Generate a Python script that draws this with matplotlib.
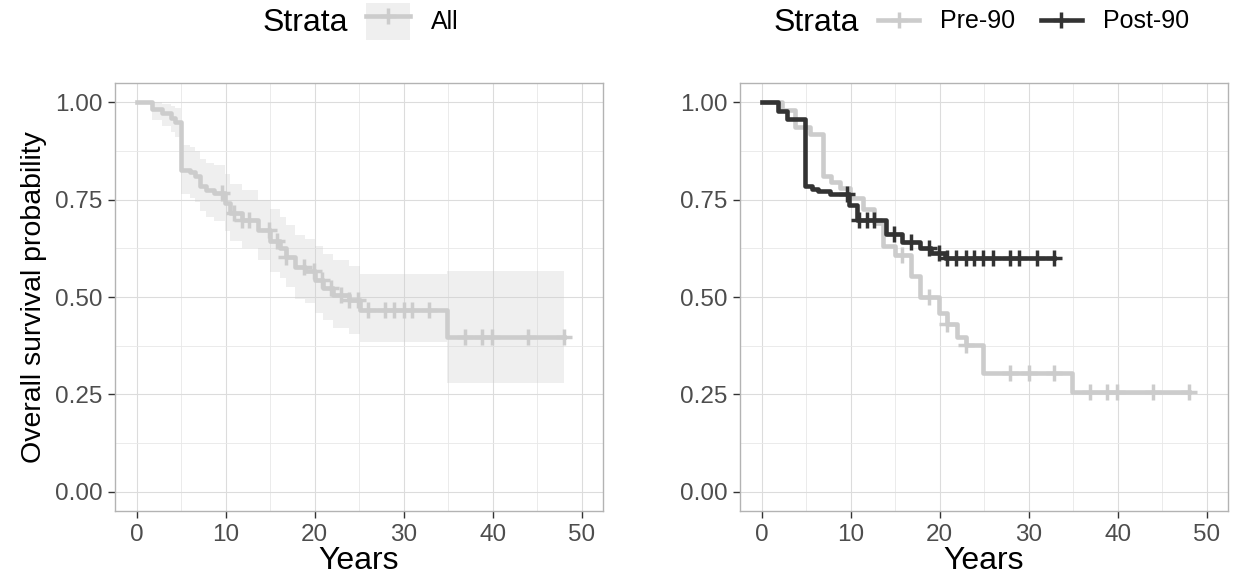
import numpy as np
import matplotlib
matplotlib.use("Agg")
import matplotlib.pyplot as plt
from matplotlib.lines import Line2D
from matplotlib.patches import Patch
from matplotlib.legend_handler import HandlerTuple
from matplotlib.ticker import MultipleLocator

# Kaplan-Meier estimates
all_times = [0, 1.7, 2.8, 3.8, 4.3, 5.0, 6.0, 6.5, 7.1, 7.8, 8.7, 9.9, 10.5, 11.8, 13.6,
             15.0, 16.1, 16.8, 17.8, 18.9, 20.0, 20.9, 22.1, 23.9, 25.1, 34.9]
all_surv = [1.0, 0.982, 0.972, 0.961, 0.950, 0.827, 0.821, 0.810, 0.785, 0.775, 0.767,
            0.741, 0.715, 0.698, 0.672, 0.643, 0.626, 0.604, 0.578, 0.566, 0.544, 0.523,
            0.506, 0.493, 0.466, 0.398]
all_lower = [1.0, 0.955, 0.94, 0.925, 0.91, 0.765, 0.755, 0.745, 0.72, 0.705, 0.695, 0.67,
             0.645, 0.625, 0.595, 0.565, 0.55, 0.525, 0.495, 0.485, 0.46, 0.44, 0.42, 0.405,
             0.385, 0.28]
all_upper = [1.0, 1.0, 0.995, 0.99, 0.985, 0.89, 0.885, 0.875, 0.855, 0.845, 0.84, 0.815,
             0.79, 0.775, 0.75, 0.725, 0.705, 0.685, 0.66, 0.65, 0.63, 0.61, 0.595, 0.58,
             0.558, 0.567]
all_end = 48.0
all_censor = [9.6, 10.9, 11.8, 12.6, 14.8, 15.7, 16.8, 18.8, 19.9, 20.8, 21.8, 22.9, 23.9,
              24.9, 26.0, 27.9, 28.9, 30.0, 30.9, 32.8, 36.9, 38.8, 39.9, 44.0, 48.0]

pre_times = [0, 2.3, 3.7, 5.4, 6.9, 7.8, 8.8, 9.9, 11.4, 12.6, 13.6, 15.0, 16.8, 17.8,
             19.9, 20.8, 21.9, 22.9, 24.9, 34.9]
pre_surv = [1.0, 0.98, 0.937, 0.92, 0.81, 0.796, 0.78, 0.754, 0.725, 0.69, 0.63, 0.608,
            0.553, 0.50, 0.458, 0.43, 0.398, 0.377, 0.304, 0.257]
pre_end = 48.0
pre_censor = [15.7, 18.8, 20.8, 22.9, 27.9, 30.0, 32.8, 36.9, 38.8, 39.9, 44.0, 48.0]

post_times = [0, 1.8, 2.8, 4.85, 5.6, 6.3, 7.7, 9.8, 10.7, 13.9, 15.8, 17.8, 19.0, 20.6]
post_surv = [1.0, 0.979, 0.958, 0.785, 0.778, 0.772, 0.766, 0.736, 0.697, 0.663, 0.642,
             0.625, 0.612, 0.600]
post_end = 32.8
post_censor = [9.6, 10.9, 11.8, 12.6, 14.8, 16.8, 18.8, 19.9, 20.8, 21.8, 22.9, 23.9,
               24.9, 26.0, 27.9, 28.9, 30.9, 32.8]

LIGHT = "#CCCCCC"
DARK = "#333333"
FILL = "#CCCCCC"
LW = 3.3
MS = 11
MEW = 2.5

plt.rcParams["font.family"] = ["Liberation Sans", "DejaVu Sans"]


def surv_at(times, surv, t):
    idx = np.searchsorted(times, t, side="right") - 1
    return np.asarray(surv)[idx]


def draw_curve(ax, times, surv, end, censor, color):
    x = list(times) + [end]
    y = list(surv) + [surv[-1]]
    ax.step(x, y, where="post", color=color, lw=LW, zorder=3)
    ax.plot(censor, surv_at(times, surv, censor), ls="none", marker="+",
            ms=MS, mew=MEW, color=color, zorder=4)


def style_axes(ax):
    ax.set_xlim(-2.45, 52.4)
    ax.set_ylim(-0.05, 1.05)
    ax.xaxis.set_major_locator(MultipleLocator(10))
    ax.xaxis.set_minor_locator(MultipleLocator(5))
    ax.yaxis.set_major_locator(MultipleLocator(0.25))
    ax.yaxis.set_minor_locator(MultipleLocator(0.125))
    ax.set_yticks([0, 0.25, 0.5, 0.75, 1.0])
    ax.set_yticklabels(["0.00", "0.25", "0.50", "0.75", "1.00"])
    ax.grid(which="major", color="#DCDCDC", lw=0.8, zorder=0)
    ax.grid(which="minor", color="#E8E8E8", lw=0.6, zorder=0)
    ax.set_axisbelow(True)
    for s in ax.spines.values():
        s.set_color("#B3B3B3")
        s.set_linewidth(1.0)
    ax.tick_params(which="major", length=5, width=1, color="#333333",
                   labelsize=17.5, labelcolor="#4D4D4D", pad=4)
    ax.tick_params(which="minor", length=0)
    ax.set_xlabel("Years", fontsize=23, labelpad=0)


fig = plt.figure(figsize=(12.33, 5.75), dpi=100)
ax1 = fig.add_axes([0.0933, 0.1113, 0.3958, 0.7443])
ax2 = fig.add_axes([0.6002, 0.1113, 0.3958, 0.7443])

# left: all patients with confidence band
ci_x = list(all_times) + [all_end]
ax1.fill_between(ci_x, list(all_lower) + [all_lower[-1]], list(all_upper) + [all_upper[-1]],
                 step="post", color=FILL, alpha=0.3, lw=0, zorder=2)
draw_curve(ax1, all_times, all_surv, all_end, all_censor, LIGHT)
style_axes(ax1)
ax1.set_ylabel("Overall survival probability", fontsize=20.5, labelpad=6)

# right: by period
draw_curve(ax2, pre_times, pre_surv, pre_end, pre_censor, LIGHT)
draw_curve(ax2, post_times, post_surv, post_end, post_censor, DARK)
style_axes(ax2)

# legends on top
fig.text(0.2133, 0.960, "Strata", fontsize=23, va="center", ha="left")
fig.text(0.627, 0.960, "Strata", fontsize=23, va="center", ha="left")

all_key = (Patch(facecolor=FILL, alpha=0.3, edgecolor="none"),
           Line2D([], [], color=LIGHT, lw=LW, marker="+", ms=MS, mew=MEW))
fig.legend(handles=[all_key], labels=["All"], handler_map={tuple: HandlerTuple(ndivide=1)},
           loc="center left", bbox_to_anchor=(0.297, 0.963), frameon=False,
           fontsize=18, handlelength=1.75, handleheight=1.9, handletextpad=0.85,
           borderpad=0, borderaxespad=0)

pre_key = Line2D([], [], color=LIGHT, lw=LW, marker="+", ms=MS, mew=MEW)
post_key = Line2D([], [], color=DARK, lw=LW, marker="+", ms=MS, mew=MEW)
fig.legend(handles=[pre_key, post_key], labels=["Pre-90", "Post-90"], ncol=2,
           loc="center left", bbox_to_anchor=(0.712, 0.963), frameon=False,
           fontsize=18, handlelength=1.65, handletextpad=0.85, columnspacing=1.0,
           borderpad=0, borderaxespad=0)

fig.savefig("out.png", dpi=100)
